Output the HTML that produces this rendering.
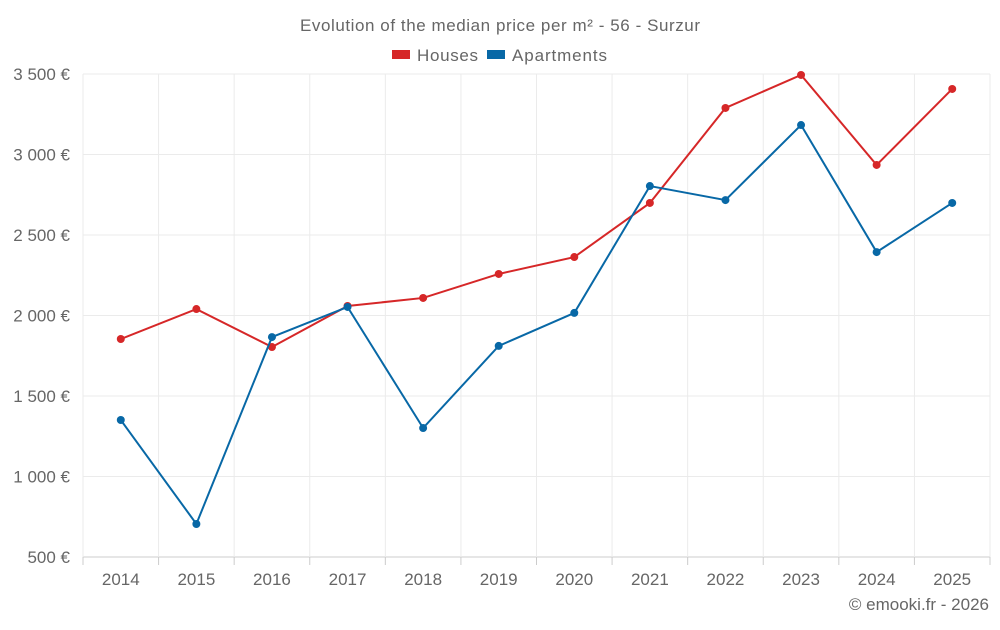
<!DOCTYPE html>
<html><head><meta charset="utf-8"><style>
body{margin:0;background:#fff;font-family:"Liberation Sans",sans-serif;}
</style></head><body>
<svg id="chart" width="1000" height="625" xmlns="http://www.w3.org/2000/svg">
<text x="300" y="31" textLength="400" lengthAdjust="spacing" font-size="17" fill="#666">Evolution of the median price per m² - 56 - Surzur</text>
<g>
<g><rect x="392" y="50" width="18" height="9" fill="#d62728"/><text x="417" y="61" font-size="17" textLength="61" fill="#666">Houses</text></g>
<g><rect x="487" y="50" width="18" height="9" fill="#0868a6"/><text x="512" y="61" font-size="17" textLength="95" fill="#666">Apartments</text></g>
</g>
<g id="grid"></g><g id="axes"></g><g id="series"></g>
<text x="989" y="610" text-anchor="end" font-size="17" fill="#666">© emooki.fr - 2026</text>
</svg>
<script>
const categories=[2014,2015,2016,2017,2018,2019,2020,2021,2022,2023,2024,2025];
const houses=[1854,2040,1804,2059,2109,2258,2363,2699,3289,3494,2935,3407];
const apartments=[1351,705,1866,2053,1301,1811,2016,2804,2717,3183,2394,2699];
const yTicks=[500,1000,1500,2000,2500,3000,3500];
const yTickLabels=["500 €","1 000 €","1 500 €","2 000 €","2 500 €","3 000 €","3 500 €"];
const L=83,R=990,T=74,B=557,ymin=500,ymax=3500;
const bw=(R-L)/categories.length;
const x=i=>L+bw*(i+0.5);
const y=v=>B-(v-ymin)/(ymax-ymin)*(B-T);
const ns="http://www.w3.org/2000/svg";
function mk(t,a,p){const e=document.createElementNS(ns,t);for(const k in a)e.setAttribute(k,a[k]);p.appendChild(e);return e;}
const g=document.getElementById('grid'),ax=document.getElementById('axes'),s=document.getElementById('series');
yTicks.forEach((v,i)=>{
 const l=mk('line',{x1:L,x2:R,y1:y(v),y2:y(v),stroke:i==0?'#ccc':'#ebebeb'},g);
 
 
 const t=mk('text',{x:70,y:y(v)+6,'text-anchor':'end','font-size':17,fill:'#666'},ax);
 t.textContent=yTickLabels[i];
 
 
});
for(let i=0;i<=categories.length;i++){
 const l=mk('line',{x1:L+bw*i,x2:L+bw*i,y1:T,y2:B,stroke:'#ebebeb'},g);
 
 
 const tk=mk('line',{x1:L+bw*i,x2:L+bw*i,y1:B,y2:B+8,stroke:'#ccc'},ax);
 
 
}
categories.forEach((c,i)=>{
 const t=mk('text',{x:x(i),y:585,'text-anchor':'middle','font-size':17,fill:'#666'},ax);
 t.textContent=c;
 
 
});
function draw(data,color,name){
 const p=mk('polyline',{points:data.map((v,i)=>x(i)+','+y(v)).join(' '),fill:'none',stroke:color,'stroke-width':2},s);
 
 
 data.forEach((v,i)=>{
  const c=mk('circle',{cx:x(i),cy:y(v),r:4,fill:color},s);
  
  
 });
}
draw(houses,'#d62728','houses');
draw(apartments,'#0868a6','apartments');
</script>
</body></html>
